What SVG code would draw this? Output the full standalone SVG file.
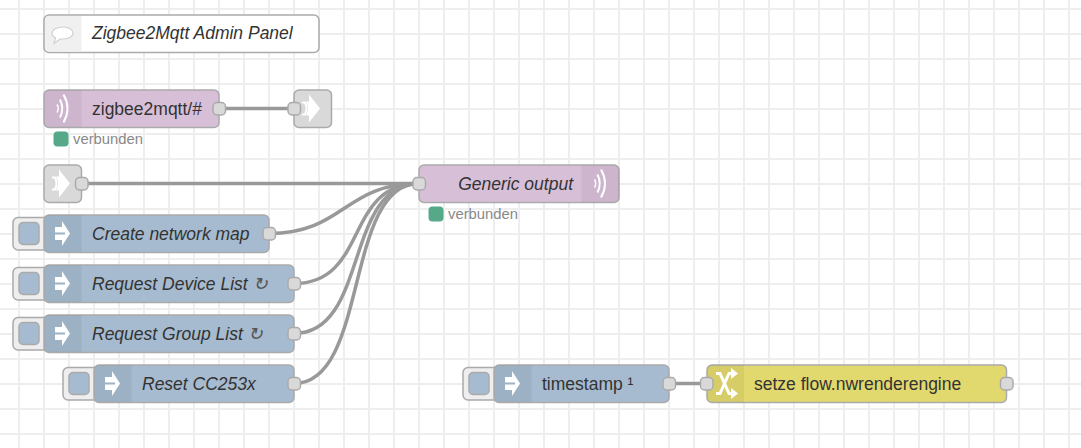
<svg xmlns="http://www.w3.org/2000/svg" width="1081" height="448" viewBox="0 0 1081 448">
<style>
text{font-family:"Liberation Sans",Arial,sans-serif;font-size:17.5px;fill:#333}
.it{font-style:italic}
.n{stroke:#aaa;stroke-width:1.5}
.ic{fill:#000;fill-opacity:.05}
.port{fill:#d9d9d9;stroke:#aaa;stroke-width:1.5}
.btn{fill:#eee;stroke:#aaa;stroke-width:1.5}
.bs{fill:#a6bbcf;stroke:#aaa;stroke-width:1.5}
.wire{fill:none;stroke:#999;stroke-width:3.5}
text.st{font-size:14.800px;fill:#888}
.g{fill:#55a888}
.wh{fill:none;stroke:#fff;stroke-width:2}
.blue{fill:#a6bbcf}.pur{fill:#d8bfd8}.yel{fill:#e2d96e}.gry{fill:#d9d9d9}
tspan.sym{fill:#555}
</style>
<defs>
<pattern id="grid" width="25" height="25" patternUnits="userSpaceOnUse" x="7" y="-3">
<path d="M12 0V25M0 12H25" stroke="#eee" stroke-width="2" fill="none"/>
</pattern>
<path id="inj" d="M-7-6.500H0V-12.500L8 0 0 12.500V6.500H-7V1H3V-1H-7z" fill="#fff"/>
<g id="wifi"><path d="M-5.500-4Q-3 0-5.500 4" class="wh" style="stroke-width:1.500"/><path d="M-2.500-9Q2 0-2.500 9" class="wh"/><path d="M1-14Q9 0 1 14" class="wh"/></g>
<g id="link"><path d="M-8-6H-5Q-2 0-5 6H-8" class="wh"/><path d="M-1-14 10 0-1 14V7H-4Q0 0-4-7H-1z" fill="#fff"/></g>
</defs>
<rect width="1081" height="448" fill="#fff"/>
<rect width="1081" height="448" fill="url(#grid)"/>
<g id="connectors">
<path class="wire" d="M219 108.500H294"/>
<path class="wire" d="M81 183.500H419"/>
<path class="wire" d="M269 233.500C344 233.500 344 183.500 419 183.500"/>
<path class="wire" d="M294 283.500C369 283.500 344 183.500 419 183.500"/>
<path class="wire" d="M294 333.500C369 333.500 344 183.500 419 183.500"/>
<path class="wire" d="M294 383.500C369 383.500 344 183.500 419 183.500"/>
<path class="wire" d="M669 383.500H707"/>
</g>
<g id="comment1">
<rect class="n" x="44" y="15" width="275" height="37.500" rx="5" fill="#fff"/>
<path d="M45 20a4 4 0 0 1 4-4H81.500V51.500H49a4 4 0 0 1-4-4z" fill="#f0f0f0"/>
<path d="M63 27c6 0 10 2.500 10 6s-4 6-10 6c-1 0-2 0-3 0l-6 4.500 1.500-5.500c-2-1-3.500-3-3.500-5 0-3.500 5-6 11-6z" fill="#fff" stroke="#d0d0d0" stroke-width="1.200"/>
<text class="it" x="92" y="39">Zigbee2Mqtt Admin Panel</text>
</g>
<g id="mqttin">
<rect class="n pur" x="44" y="90" width="175" height="37.500" rx="5"/>
<path class="ic" d="M44.500 95a5 5 0 0 1 5-5H81.500V127H49.500a5 5 0 0 1-5-5z"/>
<use href="#wifi" x="62.500" y="108.500"/>
<text x="92" y="114.500">zigbee2mqtt/#</text>
<rect class="port" x="213" y="102.500" width="12.500" height="12.500" rx="4"/>
<rect class="g" x="53.500" y="131.500" width="15" height="15" rx="4"/>
<text class="st" x="73" y="144">verbunden</text>
</g>
<g id="linkout">
<rect class="n gry" x="294" y="90" width="37.500" height="37.500" rx="5"/>
<use href="#link" x="310" y="108.500"/>
<rect class="port" x="288" y="102.500" width="12.500" height="12.500" rx="4"/>
</g>
<g id="linkin">
<rect class="n gry" x="44" y="165" width="37.500" height="37.500" rx="5"/>
<use href="#link" x="60" y="183.500"/>
<rect class="port" x="75.500" y="177.500" width="12.500" height="12.500" rx="4"/>
</g>
<g id="mqttout">
<rect class="n pur" x="419" y="165" width="200" height="37.500" rx="5"/>
<path class="ic" d="M581.500 165.500H614a5 5 0 0 1 5 5V197a5 5 0 0 1-5 5H581.500z"/>
<use href="#wifi" x="600" y="183.500"/>
<text class="it" x="573" y="189.500" text-anchor="end">Generic output</text>
<rect class="port" x="413" y="177.500" width="12.500" height="12.500" rx="4"/>
<rect class="g" x="428.500" y="206.500" width="15" height="15" rx="4"/>
<text class="st" x="448" y="219">verbunden</text>
</g>
<g id="inject1">
<path class="btn" d="M50 217.500H18a5 5 0 0 0-5 5V245a5 5 0 0 0 5 5H50z"/>
<rect class="bs" x="19" y="222.500" width="20" height="22" rx="4"/>
<rect class="n blue" x="44" y="215" width="225" height="37.500" rx="5"/>
<path class="ic" d="M44.500 220a5 5 0 0 1 5-5H81.500V252H49.500a5 5 0 0 1-5-5z"/>
<use href="#inj" x="62" y="233.500"/>
<text class="it" x="92" y="239.500">Create network map</text>
<rect class="port" x="263" y="227.500" width="12.500" height="12.500" rx="4"/>
</g>
<g id="inject2">
<path class="btn" d="M50 267.500H18a5 5 0 0 0-5 5V295a5 5 0 0 0 5 5H50z"/>
<rect class="bs" x="19" y="272.500" width="20" height="22" rx="4"/>
<rect class="n blue" x="44" y="265" width="250" height="37.500" rx="5"/>
<path class="ic" d="M44.500 270a5 5 0 0 1 5-5H81.500V302H49.500a5 5 0 0 1-5-5z"/>
<use href="#inj" x="62" y="283.500"/>
<text class="it" x="92" y="289.500">Request Device List <tspan class="sym">↻</tspan></text>
<rect class="port" x="288" y="277.500" width="12.500" height="12.500" rx="4"/>
</g>
<g id="inject3">
<path class="btn" d="M50 317.500H18a5 5 0 0 0-5 5V345a5 5 0 0 0 5 5H50z"/>
<rect class="bs" x="19" y="322.500" width="20" height="22" rx="4"/>
<rect class="n blue" x="44" y="315" width="250" height="37.500" rx="5"/>
<path class="ic" d="M44.500 320a5 5 0 0 1 5-5H81.500V352H49.500a5 5 0 0 1-5-5z"/>
<use href="#inj" x="62" y="333.500"/>
<text class="it" x="92" y="339.500">Request Group List <tspan class="sym">↻</tspan></text>
<rect class="port" x="288" y="327.500" width="12.500" height="12.500" rx="4"/>
</g>
<g id="inject4">
<path class="btn" d="M100 367.500H68a5 5 0 0 0-5 5V395a5 5 0 0 0 5 5H100z"/>
<rect class="bs" x="69" y="372.500" width="20" height="22" rx="4"/>
<rect class="n blue" x="94" y="365" width="200" height="37.500" rx="5"/>
<path class="ic" d="M94.500 370a5 5 0 0 1 5-5H131.500V402H99.500a5 5 0 0 1-5-5z"/>
<use href="#inj" x="112" y="383.500"/>
<text class="it" x="142" y="389.500">Reset CC253x</text>
<rect class="port" x="288" y="377.500" width="12.500" height="12.500" rx="4"/>
</g>
<g id="timestamp">
<path class="btn" d="M500 367.500H468a5 5 0 0 0-5 5V395a5 5 0 0 0 5 5H500z"/>
<rect class="bs" x="469" y="372.500" width="20" height="22" rx="4"/>
<rect class="n blue" x="494" y="365" width="175" height="37.500" rx="5"/>
<path class="ic" d="M494.500 370a5 5 0 0 1 5-5H531.500V402H499.500a5 5 0 0 1-5-5z"/>
<use href="#inj" x="512" y="383.500"/>
<text x="542" y="389.500">timestamp ¹</text>
<rect class="port" x="663" y="377.500" width="12.500" height="12.500" rx="4"/>
</g>
<g id="change">
<rect class="n yel" x="707" y="365" width="299.500" height="37.500" rx="5"/>
<path class="ic" d="M707.500 370a5 5 0 0 1 5-5H744V402H712.500a5 5 0 0 1-5-5z"/>
<path class="wh" style="stroke-width:3" d="M716 373.500H720L729 393.500H732M716 393.500H720L729 373.500H732"/>
<path d="M731 368 738 373.500 731 379zM731 388 738 393.500 731 399z" fill="#fff"/>
<text x="754" y="389.500">setze flow.nwrenderengine</text>
<rect class="port" x="700.500" y="377.500" width="12.500" height="12.500" rx="4"/>
<rect class="port" x="1000.500" y="377.500" width="12.500" height="12.500" rx="4"/>
</g>
</svg>
